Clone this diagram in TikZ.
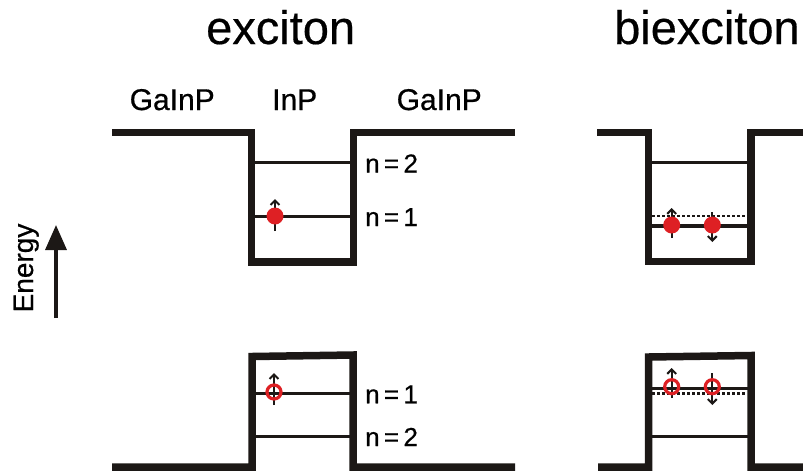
\documentclass[tikz,border=0pt]{standalone}
\usepackage{fontspec}
\setmainfont{Liberation Sans}
\newfontfamily\labelfont{Liberation Sans}[FakeBold=0.6]
\newfontfamily\titlefont{Liberation Sans}[FakeBold=0.4]
\usetikzlibrary{arrows.meta}
\definecolor{ink}{RGB}{28,24,22}
\definecolor{carrier}{RGB}{222,32,36}
\begin{document}
\begin{tikzpicture}[x=1pt,y=-1pt,
  band/.style={ink, line width=7.5pt, line join=miter, miter limit=10},
  level/.style={ink, line width=3pt},
  bound/.style={ink, line width=2.5pt, dash pattern=on 2.5pt off 2.5pt},
  spin/.style={ink, line width=2pt, -{Straight Barb[length=4.5pt,width=9pt]}},
  electron/.style={fill=carrier},
  hole/.style={draw=carrier, line width=3.2pt},
  title/.style={inner sep=0pt, anchor=base west, font=\titlefont\fontsize{47}{50}\selectfont},
  layer/.style={inner sep=0pt, anchor=base west, font=\labelfont\fontsize{30}{32}\selectfont},
  qn/.style={inner sep=0pt, anchor=base west, font=\labelfont\fontsize{26}{28}\selectfont},
]
\clip (0,0) rectangle (803,475);

% titles and layer names
\node[title] (tx) at (206,44) {exciton};
\node[title] (tbx) at (614,44) {biexciton};
\node[layer] (gl) at (129.5,110) {GaInP};
\node[layer] (qw) at (272,110) {InP};
\node[layer] (gr) at (396.5,110) {GaInP};

% energy axis
\coordinate (e0) at (56,318);
\coordinate (e1) at (56,225);
\draw[ink, line width=3.5pt, -{Triangle[length=25pt,width=21pt]}] (e0) -- (e1);
\node[rotate=90, anchor=base, inner sep=0pt, font=\labelfont\fontsize{28}{30}\selectfont] (en) at (33,268) {Energy};

% ---------- exciton: conduction band ----------
\draw[band] (112,132.5) -- (251.5,132.5) -- (251.5,262) -- (353.5,262) -- (353.5,132.5) -- (515,132.5);
\draw[level] (255,162) -- (350,162);
\draw[level] (255,216.5) -- (350,216.5);
\draw[spin] (275,231) -- (275,199);
\fill[electron] (275,216) circle[radius=8.5];
\node[qn] (c2) at (365,172.5) {n\,=\,2};
\node[qn] (c1) at (365,226) {n\,=\,1};

% ---------- exciton: valence band ----------
\draw[band] (112,467) -- (252,467) -- (252,356.5) -- (353,355) -- (353,467) -- (515,467);
\draw[level] (255.5,393) -- (349.5,393);
\draw[level] (255.5,436) -- (349.5,436);
\draw[spin] (274,405) -- (274,373);
\draw[hole] (274,392) circle[radius=7];
\node[qn] (v1) at (365,403.3) {n\,=\,1};
\node[qn] (v2) at (365,446) {n\,=\,2};

% ---------- biexciton: conduction band ----------
\draw[band] (597,132.5) -- (648.5,132.5) -- (648.5,261.5) -- (751,261.5) -- (751,132.5) -- (810,132.5);
\draw[level] (652,162) -- (747.5,162);
\draw[bound] (652,216) -- (746,216);
\draw[level, line width=3.5pt] (652,226) -- (747.5,226);
\draw[spin] (671.7,238) -- (671.7,208);
\draw[spin] (712.3,212) -- (712.3,242);
\fill[electron] (671.7,225) circle[radius=8.5];
\fill[electron] (712.3,225) circle[radius=8.5];

% ---------- biexciton: valence band ----------
\draw[band] (598,467) -- (648.5,467) -- (648.5,357) -- (751,355.5) -- (751,467) -- (810,467);
\draw[level, line width=3.5pt] (652,388.3) -- (747.5,388.3);
\draw[bound] (652,393.5) -- (746,393.5);
\draw[level] (652,436) -- (747.5,436);
\draw[spin] (671.7,398) -- (671.7,368);
\draw[spin] (712.3,373) -- (712.3,405);
\draw[hole] (671.7,386.7) circle[radius=7];
\draw[hole] (712.3,386.7) circle[radius=7];
\end{tikzpicture}
\end{document}
